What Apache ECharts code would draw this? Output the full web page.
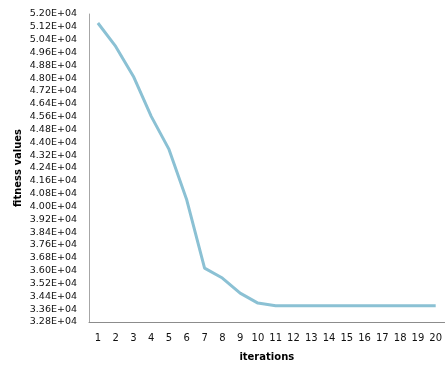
<!DOCTYPE html>
<html>
<head>
<meta charset="utf-8">
<script src="https://cdn.jsdelivr.net/npm/echarts@6/dist/echarts.min.js"></script>
<style>html,body{margin:0;padding:0;background:#fff}#c{width:445px;height:367px}</style>
</head>
<body>
<div id="c"></div>
<script>
var iterations = ['1','2','3','4','5','6','7','8','9','10','11','12','13','14','15','16','17','18','19','20'];
var fitnessValues = [51440, 49980, 48110, 45620, 43560, 40400, 36160, 35540, 34600, 33980, 33810, 33810, 33810, 33810, 33810, 33810, 33810, 33810, 33810, 33810];
var yMin = 32800, yMax = 52000, yStep = 800;
var yTitle = 'fitness values', xTitle = 'iterations';

var chart = echarts.init(document.getElementById('c'));
chart.setOption({
  animation: false,
  grid: {left: 89, right: -2, top: 14, bottom: 45, containLabel: false},
  graphic: [{
    type: 'text', x: 18, y: 168, rotation: Math.PI / 2,
    style: {text: yTitle, fontFamily: 'DejaVu Sans', fontSize: 10, fontWeight: 'bold', fill: '#000',
      align: 'center', verticalAlign: 'middle'}
  }],
  xAxis: {
    type: 'category', data: iterations, boundaryGap: true,
    name: xTitle, nameLocation: 'middle', nameGap: 30,
    nameTextStyle: {fontFamily: 'DejaVu Sans', fontSize: 10, fontWeight: 'bold', color: '#000'},
    axisLine: {lineStyle: {color: '#8c8c8c', width: 1}},
    axisTick: {show: false},
    axisLabel: {fontFamily: 'DejaVu Sans', fontSize: 10, color: '#111', margin: 11, interval: 0}
  },
  yAxis: {
    type: 'value', min: yMin, max: yMax, interval: yStep,
    axisLine: {show: true, lineStyle: {color: '#a6a6a6', width: 1}},
    axisTick: {show: false},
    splitLine: {show: false},
    axisLabel: {fontFamily: 'DejaVu Sans', fontSize: 9.5, color: '#111', margin: 12,
      formatter: function (v) { return (v / 10000).toFixed(2) + 'E+04'; }}
  },
  series: [{
    type: 'line', data: fitnessValues, symbol: 'none', smooth: false,
    lineStyle: {color: '#8BC1D4', width: 3}
  }]
});
</script>
</body>
</html>
